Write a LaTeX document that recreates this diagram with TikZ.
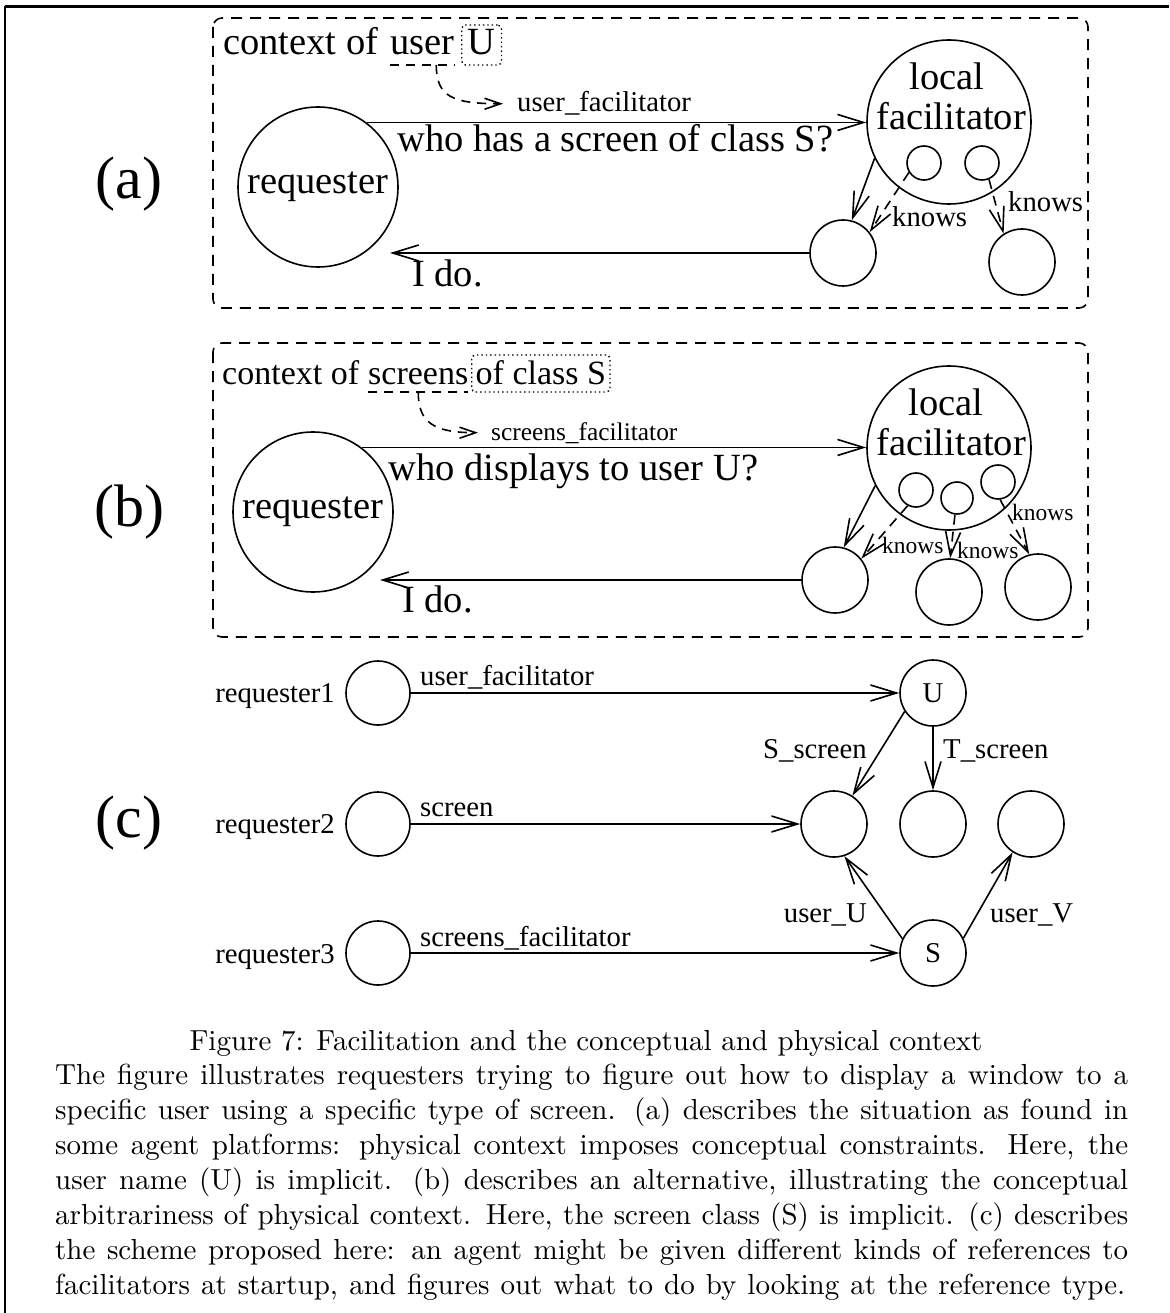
\documentclass[tikz,border=0pt]{standalone}
\usepackage{fontspec}
\newfontfamily\tms{Liberation Serif}
\usetikzlibrary{arrows.meta,calc}

\tikzset{
  big/.style={font=\tms\fontsize{60}{70}\selectfont, inner sep=0pt},
  lbl/.style={font=\tms\fontsize{38.5}{44}\selectfont, inner sep=0pt},
  hdrb/.style={font=\tms\fontsize{34}{40}\selectfont, inner sep=0pt},
  sml/.style={font=\tms\fontsize{28.7}{33}\selectfont, inner sep=0pt},
  smlb/.style={font=\tms\fontsize{25.4}{30}\selectfont, inner sep=0pt},
  tiny/.style={font=\tms\fontsize{23.5}{28}\selectfont, inner sep=0pt},
  agent/.style={circle, draw, line width=1.6pt, inner sep=0pt},
  ln/.style={line width=1.6pt},
  conn/.style={ln, -{Straight Barb[length=26pt,width=16pt]}},
  ref/.style={ln, dash pattern=on 10pt off 7pt, -{Straight Barb[length=24pt,width=15pt]}},
  hint/.style={ln, dash pattern=on 9pt off 7pt, -{Straight Barb[length=16pt,width=11pt]}},
  uline/.style={ln, dash pattern=on 9pt off 7pt},
  ctxbox/.style={ln, dash pattern=on 11pt off 8pt, rounded corners=9pt},
  dotbox/.style={draw, line width=1.4pt, dash pattern=on 1.4pt off 3pt, rounded corners=4pt},
  capline/.style={anchor=base west, inner sep=0pt},
}

\begin{document}
\begin{tikzpicture}[x=1pt,y=-1pt]
\useasboundingbox (0,0) rectangle (1169,1313);

% page frame
\draw[line width=3.2pt] (5,6.5) -- (1169,6.5);
\draw[line width=2pt] (5,6.5) -- (5,1313);

% ---------------- (a) ----------------
\node[big, anchor=base] (labA) at (129,199) {(a)};
\draw[ctxbox] (213,18) rectangle (1088,308);

\node[lbl, anchor=base west] (ctxA) at (223,55) {context of};
\node[lbl, anchor=base west] (userA) at (390,55) {user};
\node[lbl, dotbox, anchor=base west, text height=26pt, text depth=6pt,
      inner xsep=6pt, inner ysep=4pt] (uA) at (461,55) {U};
\draw[uline] ([yshift=-10pt]userA.base west) -- ([yshift=-10pt]userA.base east);
\node[sml, anchor=base west] (ufA) at (517,112) {user\_facilitator};
\draw[hint] ([xshift=14pt,yshift=-10pt]userA.base) .. controls +(0,-32pt) and +(-50pt,0) .. ([xshift=-14pt]ufA.west);

\node[agent, lbl, minimum size=160pt] (reqA) at (318,187) {requester};
\node[agent, minimum size=164pt] (facA) at (949,122) {};
\node[lbl, anchor=base] (locA) at (947,90) {local};
\node[lbl, anchor=base] (facTA) at (951,130) {facilitator};
\node[agent, minimum size=34pt] (smA1) at (924,163) {};
\node[agent, minimum size=34pt] (smA2) at (982,163) {};
\node[agent, minimum size=66pt] (lowA1) at (843,253) {};
\node[agent, minimum size=66pt] (lowA2) at (1022,262) {};

\draw[conn] (reqA.53) -- (reqA.53 -| facA.west);
\node[lbl, anchor=base west] (qA) at (397,152) {who has a screen of class S?};
\coordinate (tipA) at (390,253);
\draw[conn] (lowA1.west) -- (tipA);
\node[lbl, anchor=base west] (ansA) at (412,287) {I do.};

\draw[conn] (facA.206) -- (lowA1.75);
\draw[ref] (smA1.212) -- (lowA1.38);
\node[sml, anchor=base west] (kA1) at (892,227) {knows};
\draw[ref] (smA2.293) -- (lowA2.123);
\node[sml, anchor=base west] (kA2) at (1008,212) {knows};

% ---------------- (b) ----------------
\node[big, anchor=base] (labB) at (129,526) {(b)};
\draw[ctxbox] (213,343) rectangle (1088,637);

\node[hdrb, anchor=base west] (ctxB) at (222,384) {context of};
\node[hdrb, anchor=base west] (scrB) at (368,384) {screens};
\node[hdrb, dotbox, anchor=base west, text height=25pt, text depth=4pt,
      inner xsep=4pt, inner ysep=4pt] (clsB) at (471,384) {of class S};
\draw[uline] ([yshift=-8pt]scrB.base west) -- ([yshift=-8pt]scrB.base east);
\node[smlb, anchor=base west] (sfB) at (491,440) {screens\_facilitator};
\draw[hint] ([yshift=-8pt]scrB.base) .. controls +(0,-30pt) and +(-45pt,0) .. ([xshift=-13pt]sfB.west);

\node[agent, lbl, minimum size=160pt] (reqB) at (313,512) {requester};
\node[agent, minimum size=164pt] (facB) at (949,448) {};
\node[lbl, anchor=base] (locB) at (946,415) {local};
\node[lbl, anchor=base] (facTB) at (951,455) {facilitator};
\node[agent, minimum size=34pt] (smB1) at (916,490) {};
\node[agent, minimum size=32pt] (smB2) at (957,498) {};
\node[agent, minimum size=34pt] (smB3) at (998,482) {};
\node[agent, minimum size=66pt] (lowB1) at (835,580) {};
\node[agent, minimum size=66pt] (lowB2) at (949,592) {};
\node[agent, minimum size=66pt] (lowB3) at (1038,587) {};

\draw[conn] (reqB.53) -- (reqB.53 -| facB.west);
\node[lbl, anchor=base west] (qB) at (388,480) {who displays to user U?};
\coordinate (tipB) at (380,580);
\draw[conn] (lowB1.west) -- (tipB);
\node[lbl, anchor=base west] (ansB) at (402,612) {I do.};

\draw[conn] (facB.207) -- (lowB1.75);
\draw[ref] (smB1.242) -- (lowB1.39);
\node[tiny, anchor=base west] (kB1) at (882,553) {knows};
\draw[ref] (smB2.263) -- (lowB2.88);
\node[tiny, anchor=base west] (kB2) at (957,558) {knows};
\draw[ref] (smB3.277) -- (lowB3.105);
\node[tiny, anchor=base west] (kB3) at (1012,520) {knows};

% ---------------- (c) ----------------
\node[big, anchor=base] (labC) at (129,837) {(c)};

\node[agent, minimum size=64pt] (r1) at (378,693) {};
\node[agent, minimum size=64pt] (r2) at (378,824) {};
\node[agent, minimum size=64pt] (r3) at (378,953) {};
\node[sml, anchor=base east] (r1l) at (335,702) {requester1};
\node[sml, anchor=base east] (r2l) at (335,833) {requester2};
\node[sml, anchor=base east] (r3l) at (335,963) {requester3};

\node[agent, sml, minimum size=66pt] (nU) at (933,693) {U};
\node[agent, minimum size=66pt] (c2L) at (834,824) {};
\node[agent, minimum size=66pt] (c2M) at (933,824) {};
\node[agent, minimum size=66pt] (c2R) at (1031,824) {};
\node[agent, sml, minimum size=66pt] (nS) at (933,953) {S};

\draw[conn] (r1) -- (nU);
\node[sml, anchor=base west] (e1) at (420,685) {user\_facilitator};
\draw[conn] (r2) -- (c2L);
\node[sml, anchor=base west] (e2) at (420,816) {screen};
\draw[conn] (r3) -- (nS);
\node[sml, anchor=base west] (e3) at (420,946) {screens\_facilitator};

\draw[conn] (nU.213) -- (c2L.57);
\node[sml, anchor=base east] (e4) at (867,758) {S\_screen};
\draw[conn] (nU) -- (c2M);
\node[sml, anchor=base west] (e5) at (943,758) {T\_screen};
\draw[conn] (nS.155) -- (c2L.288);
\node[sml, anchor=base east] (e6) at (867,922) {user\_U};
\draw[conn] (nS.26) -- (c2R.237);
\node[sml, anchor=base west] (e7) at (990,922) {user\_V};

% ---------------- caption ----------------
\node[anchor=base, inner sep=0pt] (figcap) at (586,1050)
  {\scalebox{2.9}{Figure 7: Facilitation and the conceptual and physical context}};
\node[capline] (cap1) at (55,1084) {\scalebox{2.9}{\makebox[370pt][s]{The figure illustrates requesters trying to figure out how to display a window to a}}};
\node[capline] (cap2) at (55,1119) {\scalebox{2.9}{\makebox[370pt][s]{specific user using a specific type of screen.  (a) describes the situation as found in}}};
\node[capline] (cap3) at (55,1154) {\scalebox{2.9}{\makebox[370pt][s]{some agent platforms: physical context imposes conceptual constraints.  Here, the}}};
\node[capline] (cap4) at (55,1189) {\scalebox{2.9}{\makebox[370pt][s]{user name (U) is implicit.  (b) describes an alternative, illustrating the conceptual}}};
\node[capline] (cap5) at (55,1224) {\scalebox{2.9}{\makebox[370pt][s]{arbitrariness of physical context. Here, the screen class (S) is implicit. (c) describes}}};
\node[capline] (cap6) at (55,1259) {\scalebox{2.9}{\makebox[370pt][s]{the scheme proposed here: an agent might be given different kinds of references to}}};
\node[capline] (cap7) at (55,1294) {\scalebox{2.9}{\makebox[369pt][s]{facilitators at startup, and figures out what to do by looking at the reference type.}}};
\end{tikzpicture}
\end{document}
